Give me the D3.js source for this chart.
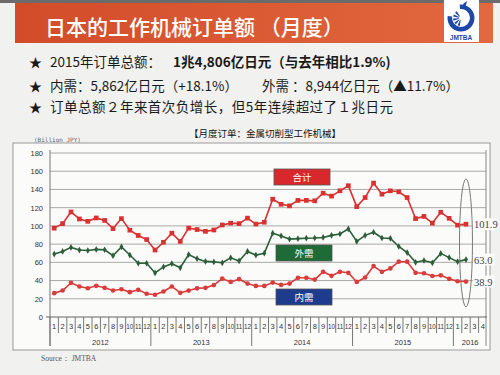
<!DOCTYPE html>
<html>
<head>
<meta charset="utf-8">
<script src="https://cdn.jsdelivr.net/npm/d3@7"></script>
<style>
  body { margin: 0; background: #f1f1ef; }
  svg { display: block; font-family: "Noto Sans CJK SC", sans-serif; }
</style>
</head>
<body>
<script>
// Categories: Jan 2012 .. Apr 2016 on the axis
var years = ['2012', '2013', '2014', '2015', '2016'];
var monthNames = ['1', '2', '3', '4', '5', '6', '7', '8', '9', '10', '11', '12'];
var yTicks = [0, 20, 40, 60, 80, 100, 120, 140, 160, 180];

// Monthly orders, billion JPY, Jan 2012 .. Feb 2016
var total = [
  97.5, 102.5, 115.3, 107.6, 105, 108.7, 106, 97, 108, 95.3, 89.5, 85,
  73.5, 82, 92, 83, 97.5, 96, 94, 95.5, 101, 103, 102.5, 108.5,
  102, 104, 129.3, 123.7, 122, 128, 128, 127.5, 135.9, 132.7, 138.5, 144.1,
  121.1, 131.1, 147, 134.8, 138.5, 137.4, 131.1, 108, 110.4, 103, 115, 108.3,
  100.8, 101.9
];
var overseas = [
  69.1, 72, 76.4, 73.5, 73, 74.2, 73.8, 67.3, 77, 68, 59, 59,
  48.4, 55, 58.5, 54, 68.5, 64, 61, 60.5, 59.5, 65, 61.5, 72,
  68, 70, 92, 89, 85.5, 86, 86.5, 86.7, 87.3, 89.6, 91.1, 96.7,
  83, 89.6, 93, 86.7, 86.3, 77.4, 70.7, 60, 62, 59.5, 69.8, 65.2,
  60.8, 63.0
];
var domestic = [
  26.2, 29.1, 37.5, 33.5, 31.6, 34.2, 32, 29.1, 30.5, 27.3, 29.8, 25.5,
  24.4, 28, 33.5, 26.5, 29, 31.5, 32, 35, 42.2, 38.5, 41.5, 36.7,
  34.1, 34.1, 37.8, 35.2, 36.7, 43, 43, 41.1, 49.6, 45.2, 49.6, 48.5,
  38.5, 43.3, 55.9, 49.6, 53.3, 60.7, 60.7, 48.5, 48, 45, 45.7, 41.9,
  39.2, 38.9
];

var seriesNames = ['合计', '外需', '内需'];
var endLabels = ['101.9', '63.0', '38.9'];

var titleText = '日本的工作机械订单额 （月度）';
var bullet1a = '2015年订单总额：';
var bullet1b = '1兆4,806亿日元（与去年相比1.9%)';
var bullet2a = '内需：5,862亿日元（+18.1%）';
var bullet2b = '外需 ：8,944亿日元（▲11.7%）';
var bullet3 = '订单总额２年来首次负增长，但5年连续超过了１兆日元';
var chartTitle = '【月度订单：金属切削型工作机械】';

// month categories
var months = [];
years.forEach(function (yr) {
  monthNames.forEach(function (m) {
    months.push({ year: yr, month: m });
  });
});
months = months.slice(0, 52);

var svg = d3.select('body').append('svg').attr('width', 500).attr('height', 375);

// ---- header banner ----
var grad = svg.append('defs').append('linearGradient').attr('id', 'banner');
grad.append('stop').attr('offset', '0%').attr('stop-color', '#d24c29');
grad.append('stop').attr('offset', '100%').attr('stop-color', '#e2683f');

svg.append('rect').attr('x', 0).attr('y', 0).attr('width', 500).attr('height', 3).attr('fill', '#6b6b6b');
svg.append('rect').attr('x', 15).attr('y', 3).attr('width', 478).attr('height', 40).attr('fill', 'url(#banner)');

svg.append('text')
  .attr('x', 45).attr('y', 35)
  .attr('fill', '#fff')
  .attr('font-size', 21)
  .attr('font-weight', 500)
  .text(titleText);

// logo
svg.append('rect').attr('x', 444).attr('y', 0).attr('width', 35).attr('height', 42).attr('fill', '#fff');
var logo = svg.append('g').attr('transform', 'translate(461,18)');
logo.append('path')
  .attr('d', d3.arc().innerRadius(9).outerRadius(13.5).startAngle(-0.1).endAngle(Math.PI * 1.55)())
  .attr('fill', '#1d47a8');
logo.append('path')
  .attr('d', 'M2,-14 L6,-17 L4,-9 Z')
  .attr('fill', '#1d47a8');
d3.range(5).forEach(function (k) {
  var a0 = Math.PI * (1.05 + k * 0.17);
  logo.append('path')
    .attr('d', d3.arc().innerRadius(2).outerRadius(8).startAngle(a0).endAngle(a0 + 0.28)())
    .attr('fill', '#1d47a8');
});
svg.append('text')
  .attr('x', 461).attr('y', 40)
  .attr('text-anchor', 'middle')
  .attr('font-family', 'Liberation Sans, Arial, sans-serif')
  .attr('font-weight', 'bold')
  .attr('font-size', 6.5)
  .attr('fill', '#1d47a8')
  .text('JMTBA');

// ---- bullet lines ----
var bullets = svg.append('g').attr('font-size', 13.5).attr('fill', '#1a1a1a');
[67, 91, 112].forEach(function (yy) {
  bullets.append('text').attr('x', 29).attr('y', yy).attr('font-size', 13).text('★');
});
bullets.append('text').attr('x', 50).attr('y', 67).text(bullet1a);
bullets.append('text').attr('x', 173).attr('y', 67).attr('font-weight', 'bold').text(bullet1b);
bullets.append('text').attr('x', 50).attr('y', 91).text(bullet2a);
bullets.append('text').attr('x', 262).attr('y', 91).text(bullet2b);
bullets.append('text').attr('x', 50).attr('y', 112).attr('textLength', 343).text(bullet3);

// ---- chart frame ----
svg.append('text')
  .attr('x', 265).attr('y', 137)
  .attr('text-anchor', 'middle')
  .attr('font-size', 9.5)
  .attr('fill', '#111')
  .text(chartTitle);

svg.append('rect')
  .attr('x', 13).attr('y', 143).attr('width', 477).attr('height', 207)
  .attr('fill', '#fbfbfa').attr('stroke', '#9a9a98').attr('stroke-width', 1);

svg.append('text')
  .attr('x', 34).attr('y', 142)
  .attr('font-family', 'DejaVu Sans Mono, monospace')
  .attr('font-size', 6)
  .attr('fill', '#666')
  .text('(Billion JPY)');

var x = d3.scaleBand().domain(d3.range(months.length)).range([50, 487]);
var bw = x.bandwidth();
var y = d3.scaleLinear().domain([0, 180]).range([317, 153]);
var y0 = y(0);

// gridlines
svg.append('g')
  .selectAll('line')
  .data(yTicks.slice(1))
  .enter()
  .append('line')
  .attr('x1', 50).attr('x2', 486)
  .attr('y1', function (d) { return y(d); })
  .attr('y2', function (d) { return y(d); })
  .attr('stroke', '#a9a9a7').attr('stroke-width', 1);

// y axis
var yAxis = svg.append('g')
  .attr('transform', 'translate(50,0)')
  .call(d3.axisLeft(y).tickValues(yTicks).tickSize(0).tickPadding(7));
yAxis.select('.domain').remove();
yAxis.selectAll('text')
  .attr('font-family', 'Liberation Sans, Arial, sans-serif')
  .attr('font-size', 7.5)
  .attr('fill', '#333');

svg.append('line').attr('x1', 50).attr('x2', 50).attr('y1', 150).attr('y2', y0 + 29)
  .attr('stroke', '#777');
svg.append('line').attr('x1', 486).attr('x2', 486).attr('y1', 150).attr('y2', y0 + 29)
  .attr('stroke', '#888');
svg.append('line').attr('x1', 46).attr('x2', 487).attr('y1', y0).attr('y2', y0)
  .attr('stroke', '#666').attr('stroke-width', 1.2);

// x axis: month cells and year rows
var xg = svg.append('g');
xg.selectAll('line.m')
  .data(months)
  .enter()
  .append('line')
  .attr('class', 'm')
  .attr('x1', function (d, i) { return x(i); })
  .attr('x2', function (d, i) { return x(i); })
  .attr('y1', y0)
  .attr('y2', function (d) { return d.month === '1' ? y0 + 29 : y0 + 16; })
  .attr('stroke', '#777');
xg.selectAll('text.m')
  .data(months)
  .enter()
  .append('text')
  .attr('class', 'm')
  .attr('x', function (d, i) { return x(i) + bw / 2; })
  .attr('y', y0 + 12)
  .attr('text-anchor', 'middle')
  .attr('font-family', 'Liberation Sans, Arial, sans-serif')
  .attr('font-size', function (d) { return d.month.length > 1 ? 6.3 : 7.5; })
  .attr('fill', '#333')
  .text(function (d) { return d.month; });
xg.selectAll('text.y')
  .data(years)
  .enter()
  .append('text')
  .attr('class', 'y')
  .attr('x', function (d, i) {
    var first = i * 12;
    var last = Math.min(first + 12, months.length);
    return x(first) + (last - first) * bw / 2;
  })
  .attr('y', y0 + 28)
  .attr('text-anchor', 'middle')
  .attr('font-family', 'Liberation Sans, Arial, sans-serif')
  .attr('font-size', 7.5)
  .attr('fill', '#333')
  .text(function (d) { return d; });

svg.append('text')
  .attr('x', 41).attr('y', 361)
  .attr('font-family', 'Liberation Serif, serif')
  .attr('font-size', 7.5)
  .attr('fill', '#555')
  .text('Source：  JMTBA');

// ---- series ----
var line = d3.line()
  .x(function (d, i) { return x(i) + bw / 2; })
  .y(function (d) { return y(d); });

var series = [
  { values: total, color: '#d93030', symbol: d3.symbolSquare, size: 22 },
  { values: overseas, color: '#2c5e3a', symbol: d3.symbolDiamond, size: 13 },
  { values: domestic, color: '#da3b3b', symbol: d3.symbolCircle, size: 17 }
];

series.forEach(function (s) {
  svg.append('path')
    .datum(s.values)
    .attr('d', line)
    .attr('fill', 'none')
    .attr('stroke', s.color)
    .attr('stroke-width', 1.6);
  svg.append('g')
    .selectAll('path')
    .data(s.values)
    .enter()
    .append('path')
    .attr('transform', function (d, i) { return 'translate(' + (x(i) + bw / 2) + ',' + y(d) + ')'; })
    .attr('d', d3.symbol().type(s.symbol).size(s.size))
    .attr('fill', s.color);
});

// legend boxes
var legendPos = [
  { x: 274, y: 169, fill: '#d8282b' },
  { x: 276, y: 245, fill: '#1f6b38' },
  { x: 276, y: 289, fill: '#1d3c8e' }
];
legendPos.forEach(function (p, i) {
  svg.append('rect')
    .attr('x', p.x).attr('y', p.y).attr('width', 56).attr('height', 16)
    .attr('fill', p.fill).attr('stroke', '#555').attr('stroke-width', 0.8);
  svg.append('text')
    .attr('x', p.x + 28).attr('y', p.y + 11.5)
    .attr('text-anchor', 'middle')
    .attr('font-size', 9.5)
    .attr('fill', '#fff')
    .text(seriesNames[i]);
});

// highlight ellipse around the latest month
var lastIdx = total.length - 1;
svg.append('ellipse')
  .attr('cx', x(lastIdx) + bw / 2)
  .attr('cy', (y(total[lastIdx]) + y(domestic[lastIdx])) / 2 - 10)
  .attr('rx', 6.5)
  .attr('ry', 64)
  .attr('fill', 'none')
  .attr('stroke', '#7a7a7a')
  .attr('stroke-width', 1);

// end value labels
[total, overseas, domestic].forEach(function (vals, i) {
  var ly = y(vals[lastIdx]);
  svg.append('rect')
    .attr('x', 473).attr('y', ly - 6).attr('width', 22).attr('height', 12)
    .attr('fill', '#fbfbfa');
  svg.append('text')
    .attr('x', 474).attr('y', ly + 4)
    .attr('font-family', 'Liberation Serif, serif')
    .attr('font-size', 10.5)
    .attr('fill', '#444')
    .text(endLabels[i]);
});
</script>
</body>
</html>
